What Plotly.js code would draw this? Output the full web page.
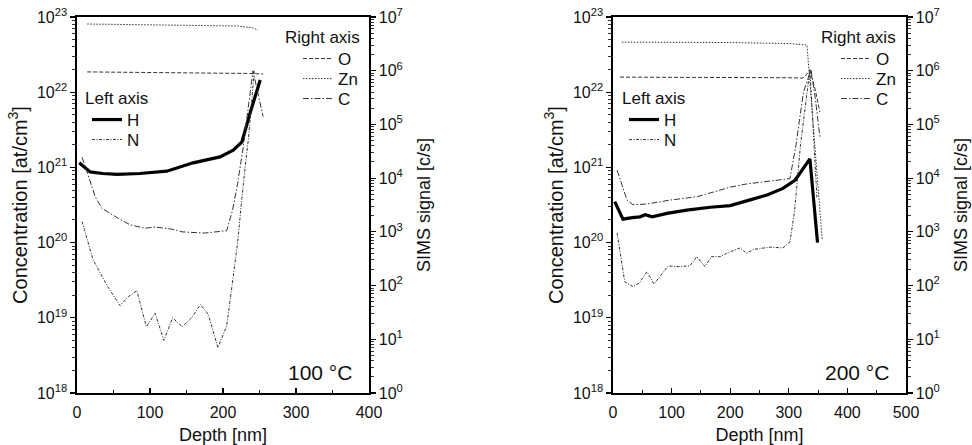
<!DOCTYPE html>
<html>
<head>
<meta charset="utf-8">
<script src="https://cdn.plot.ly/plotly-3.0.1.min.js"></script>
<style>html,body{margin:0;padding:0;background:#fff;}#chart{width:972px;height:445px;}</style>
</head>
<body>
<div id="chart"></div>
<script>
// ---------- 100 °C panel ----------
const h100Depth = [3, 18, 35, 55, 86, 123, 159, 196, 214, 226, 237, 251];
const h100Conc  = [1.15e21, 8.7e20, 8.3e20, 8.1e20, 8.3e20, 8.9e20, 1.15e21, 1.38e21, 1.7e21, 2.19e21, 5.25e21, 1.45e22];

const n100Depth = [7, 22, 42, 59, 70, 82, 95, 107, 119, 131, 144, 157, 169, 180, 193, 205, 212, 220, 228, 235, 243];
const n100Conc  = [1.9e20, 5.9e19, 2.6e19, 1.45e19, 1.9e19, 2.3e19, 7.6e18, 1.15e19, 5.0e18, 1.0e19, 7.6e18, 1.0e19, 1.5e19, 1.1e19, 4.0e18, 7.8e18, 2.5e19, 1.0e20, 6.3e20, 2.5e21, 2.0e22];

const o100Depth = [14, 60, 120, 180, 230, 255];
const o100Sig   = [9.5e5, 9.4e5, 9.3e5, 9.1e5, 8.9e5, 8.7e5];

const zn100Depth = [14, 60, 120, 180, 220, 240, 248];
const zn100Sig   = [7.4e6, 7.3e6, 7.1e6, 7.0e6, 6.8e6, 6.3e6, 5.7e6];

const c100Depth = [7, 25, 34, 56, 73, 93, 107, 130, 144, 175, 205, 213, 220, 228, 241, 255];
const c100Sig   = [2.45e4, 4.5e3, 2.75e3, 1.8e3, 1.35e3, 1.17e3, 1.23e3, 1.12e3, 1.0e3, 9.5e2, 1.05e3, 2.5e3, 8e3, 4e4, 1.0e6, 1.4e5];

// ---------- 200 °C panel ----------
const h200Depth = [3, 17, 33, 46, 55, 67, 92, 126, 166, 200, 234, 263, 290, 311, 336, 349];
const h200Conc  = [3.5e20, 2.05e20, 2.15e20, 2.2e20, 2.35e20, 2.2e20, 2.45e20, 2.7e20, 2.95e20, 3.1e20, 3.7e20, 4.3e20, 5.25e20, 6.8e20, 1.3e21, 1.0e20];

const n200Depth = [7, 20, 34, 45, 58, 70, 94, 109, 131, 143, 157, 168, 183, 194, 217, 228, 239, 268, 290, 302, 310, 320, 336, 348];
const n200Conc  = [1.35e20, 3.0e19, 2.6e19, 2.9e19, 4.1e19, 2.8e19, 4.9e19, 4.8e19, 4.9e19, 6.5e19, 4.8e19, 6.5e19, 6.5e19, 7.2e19, 8.5e19, 7.2e19, 8.1e19, 8.7e19, 8.5e19, 1.02e20, 2.7e20, 2.0e21, 2.0e22, 4.0e20];

const o200Depth = [12, 100, 200, 300, 324, 336, 345, 353];
const o200Sig   = [7.6e5, 7.6e5, 7.5e5, 7.4e5, 7.3e5, 1.0e6, 4.5e5, 1.7e5];

const zn200Depth = [15, 100, 200, 300, 331, 340, 350, 357];
const zn200Sig   = [3.4e6, 3.4e6, 3.35e6, 3.2e6, 3.0e6, 1.7e5, 6.8e3, 7.0e2];

const c200Depth = [7, 24, 34, 58, 97, 143, 171, 200, 228, 256, 302, 312, 325, 338, 345, 353];
const c200Sig   = [1.4e4, 3.9e3, 3.2e3, 3.3e3, 3.9e3, 4.5e3, 5.5e3, 6.8e3, 7.8e3, 8.5e3, 9.8e3, 4e4, 4e5, 1.05e6, 3.2e5, 5.9e4];

// ---------- tick labels / texts ----------
const leftExp  = [18, 19, 20, 21, 22, 23];
const rightExp = [0, 1, 2, 3, 4, 5, 6, 7];
const panelLabels = ['100 °C', '200 °C'];

const FONT = 'Liberation Sans, Arial, Helvetica, sans-serif';
const INK = '#111';
const LINE = '#333';

function minorVals(exps) {
  const out = [];
  for (let i = 0; i < exps.length - 1; i++) {
    for (let k = 2; k <= 9; k++) out.push(k * Math.pow(10, exps[i]));
  }
  return out;
}

const styles = {
  H:  {color: '#000', width: 3.2, dash: 'solid'},
  N:  {color: LINE, width: 1, dash: '3px,1.5px,1px,1.5px'},
  O:  {color: LINE, width: 1, dash: '4px,2px'},
  Zn: {color: LINE, width: 1, dash: '1.5px,1.5px'},
  C:  {color: LINE, width: 1, dash: '6px,2px,1.5px,2px'}
};

function tr(name, x, y, xa, ya, leg) {
  return {type: 'scatter', mode: 'lines', name: name, x: x, y: y, xaxis: xa, yaxis: ya,
          legend: leg, line: styles[name], hoverinfo: 'skip'};
}

const data = [
  tr('O',  o100Depth,  o100Sig,  'x', 'y2', 'legend'),
  tr('Zn', zn100Depth, zn100Sig, 'x', 'y2', 'legend2'),
  tr('C',  c100Depth,  c100Sig,  'x', 'y2', 'legend3'),
  tr('H',  h100Depth,  h100Conc, 'x', 'y',  'legend4'),
  tr('N',  n100Depth,  n100Conc, 'x', 'y',  'legend5'),
  tr('O',  o200Depth,  o200Sig,  'x2', 'y4', 'legend6'),
  tr('Zn', zn200Depth, zn200Sig, 'x2', 'y4', 'legend7'),
  tr('C',  c200Depth,  c200Sig,  'x2', 'y4', 'legend8'),
  tr('H',  h200Depth,  h200Conc, 'x2', 'y3', 'legend9'),
  tr('N',  n200Depth,  n200Conc, 'x2', 'y3', 'legend10')
];

const W = 972, H = 445;
const px = v => v / W;
const py = v => 1 - v / H;

const yDom = [py(393), py(17)];

function xAxis(dom, maxX, anchor) {
  return {
    domain: dom, anchor: anchor, range: [0, maxX], tickmode: 'linear', tick0: 0, dtick: 100,
    ticks: 'inside', ticklen: 5, tickwidth: 1.2, tickcolor: '#000',
    minor: {dtick: 50, ticks: 'inside', ticklen: 3, tickwidth: 1, tickcolor: '#000'},
    showline: true, mirror: true, linewidth: 1.6, linecolor: '#000',
    showgrid: false, zeroline: false, automargin: false,
    tickfont: {family: FONT, size: 16, color: INK}, ticklabelstandoff: 4,
    title: {text: 'Depth [nm]', font: {family: FONT, size: 18, color: INK}, standoff: 10}
  };
}

function yAxisLeft(anchor) {
  return {
    type: 'log', domain: yDom, anchor: anchor, range: [18, 23],
    tickmode: 'array', tickvals: leftExp.map(e => Math.pow(10, e)),
    ticktext: leftExp.map(e => '10<sup>' + e + '</sup>'),
    ticks: 'outside', ticklen: 5, tickwidth: 1.2, tickcolor: '#000',
    minor: {tickmode: 'array', tickvals: minorVals(leftExp), ticks: 'outside', ticklen: 3, tickwidth: 0.8, tickcolor: '#000'},
    showline: true, linewidth: 1.6, linecolor: '#000', showgrid: false, zeroline: false, automargin: false,
    tickfont: {family: FONT, size: 16, color: INK},
    title: {text: 'Concentration [at/cm<sup>3</sup>]', font: {family: FONT, size: 20, color: INK}, standoff: 4}
  };
}

function yAxisRight(anchor, over) {
  return {
    type: 'log', domain: yDom, anchor: anchor, overlaying: over, side: 'right', range: [0, 7],
    tickmode: 'array', tickvals: rightExp.map(e => Math.pow(10, e)),
    ticktext: rightExp.map(e => '10<sup>' + e + '</sup>'),
    ticks: 'outside', ticklen: 5, tickwidth: 1.2, tickcolor: '#000',
    minor: {tickmode: 'array', tickvals: minorVals(rightExp), ticks: 'outside', ticklen: 3, tickwidth: 0.8, tickcolor: '#000'},
    showline: true, linewidth: 1.6, linecolor: '#000', showgrid: false, zeroline: false, automargin: false,
    tickfont: {family: FONT, size: 16, color: INK},
    title: {text: 'SIMS signal [c/s]', font: {family: FONT, size: 18, color: INK}, standoff: 15}
  };
}

function legendAt(xp, yCenter) {
  return {x: px(xp), y: py(yCenter - 16), xanchor: 'left', yanchor: 'top', bgcolor: 'rgba(0,0,0,0)',
          borderwidth: 0, itemwidth: 30, tracegroupgap: 0, traceorder: 'normal',
          font: {family: FONT, size: 17, color: INK}, itemclick: false, itemdoubleclick: false};
}

function ann(text, xp, yp, xanchor, size) {
  return {text: text, x: px(xp), y: py(yp), xref: 'paper', yref: 'paper', xanchor: xanchor, yanchor: 'middle',
          showarrow: false, font: {family: FONT, size: size, color: INK}};
}

const layout = {
  width: W, height: H, margin: {l: 0, r: 0, t: 0, b: 0},
  paper_bgcolor: '#fff', plot_bgcolor: '#fff', showlegend: true, hovermode: false,
  xaxis: xAxis([px(77), px(369)], 400, 'y'),
  xaxis2: xAxis([px(613), px(906)], 500, 'y3'),
  yaxis: yAxisLeft('x'),
  yaxis2: yAxisRight('x', 'y'),
  yaxis3: yAxisLeft('x2'),
  yaxis4: yAxisRight('x2', 'y3'),
  legend:   legendAt(298, 57),
  legend2:  legendAt(298, 77),
  legend3:  legendAt(298, 97),
  legend4:  legendAt(87, 118),
  legend5:  legendAt(87, 138),
  legend6:  legendAt(836, 57),
  legend7:  legendAt(836, 77),
  legend8:  legendAt(836, 97),
  legend9:  legendAt(624, 118),
  legend10: legendAt(624, 138),
  annotations: [
    ann('Right axis', 362, 37, 'right', 17),
    ann('Left axis', 83, 98, 'left', 17),
    ann('Right axis', 898, 37, 'right', 17),
    ann('Left axis', 620, 98, 'left', 17),
    ann(panelLabels[0], 354, 372, 'right', 21),
    ann(panelLabels[1], 891, 372, 'right', 21)
  ]
};

Plotly.newPlot('chart', data, layout, {staticPlot: true, displayModeBar: false});
</script>
</body>
</html>
